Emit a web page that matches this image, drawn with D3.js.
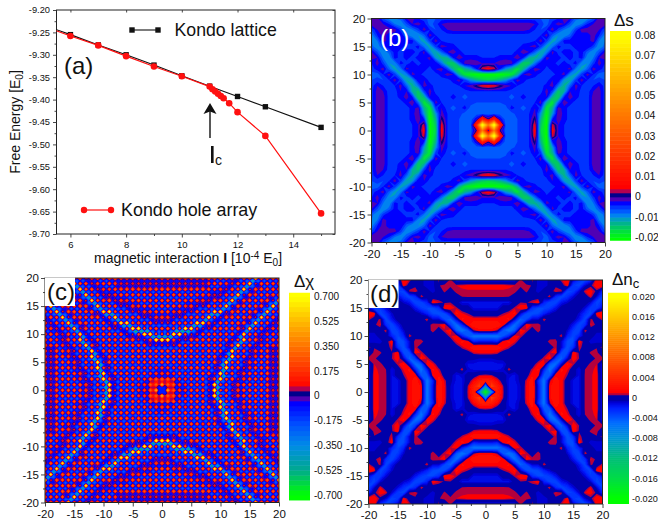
<!DOCTYPE html>
<html>
<head>
<meta charset="utf-8">
<script src="https://cdnjs.cloudflare.com/ajax/libs/d3/7.8.5/d3.min.js"></script>
<style>
  html, body { margin: 0; padding: 0; background: #fff; }
  text { font-family: "Liberation Sans", Arial, sans-serif; fill: #111; }
</style>
</head>
<body>
<svg id="chart" width="658" height="523"></svg>
<script>
// panel (a): free energy against magnetic interaction
const latticeX = [5, 6, 7, 8, 9, 10, 11, 12, 13, 15];
const latticeE = [-9.233, -9.255, -9.278, -9.300, -9.323, -9.347, -9.370, -9.393, -9.416, -9.462];
const holeX = [5, 6, 7, 8, 9, 10, 11, 11.1, 11.2, 11.3, 11.4, 11.5, 11.7, 12, 13, 15];
const holeE = [-9.235, -9.258, -9.279, -9.303, -9.326, -9.348, -9.371, -9.377, -9.382, -9.387, -9.392, -9.397, -9.408, -9.428, -9.481, -9.654];
const energyTicks = [-9.20, -9.25, -9.30, -9.35, -9.40, -9.45, -9.50, -9.55, -9.60, -9.65, -9.70];
const interactionTicks = [6, 8, 10, 12, 14];

// maps: one octant of the lattice, row = y (0..20), columns x = y..20
const siteTicks = [-20, -15, -10, -5, 0, 5, 10, 15, 20];

// delta s, in units of 0.001
const dsOctant = [
  [-3, 40, 1, -7, -8, -6, -5, -4, 6, -16, -21, 6, -2, -4, -5, -5, -5, -5, -1, -1, -5],
  [85, 15, -7, -8, -6, -5, -4, 5, -15, -21, 4, -2, -4, -5, -5, -5, -5, -1, -1, -5],
  [-2, -7, -7, -6, -5, -4, 2, -13, -21, -4, -1, -3, -5, -5, -5, -5, -1, -1, -5],
  [-6, -7, -5, -5, -4, -1, -10, -20, -10, 0, -3, -5, -5, -5, -5, -1, -1, -5],
  [-3, -5, -7, -5, -2, -5, -18, -13, -1, -3, -5, -5, -5, -5, -1, -1, -5],
  [-5, -5, -5, -4, -1, -12, -18, -7, 0, -3, -5, -5, -5, -1, -1, -5],
  [-3, -5, -5, -3, -2, -13, -16, -4, -1, -3, -5, -5, -1, -1, -5],
  [-5, -5, -5, -1, -5, -15, -12, -2, -2, -5, -5, -2, -1, -5],
  [-5, -5, -3, -1, -8, -13, -7, -1, -4, -5, -4, -2, -5],
  [-5, -5, -2, -2, -10, -12, -5, -1, -4, -6, -5, -6],
  [-5, -5, -3, -1, -9, -11, -5, -1, -4, -7, -7],
  [-3, -3, -3, -1, -8, -11, -7, -1, -3, -5],
  [-5, -3, -5, -3, -9, -10, -5, -1, -4],
  [-5, -3, -5, -3, -10, -8, -2, -1],
  [-3, -5, -3, -7, -10, -6, -2],
  [-3, -3, -2, -5, -10, -7],
  [-3, -3, -1, -8, -8],
  [-3, -1, -4, -9],
  [-1, -2, -6],
  [-1, -1],
  [-2]
];

// delta n_c, in units of 0.001
const dnOctant = [
  [-20, -8, 3, 0.7, -1.2, -1.5, -0.7, 1, 2.5, -1.5, -5.5, 1.5, 2.5, 1.2, -0.2, -1.2, -1.2, 0.6, 0.8, 1.2, -1.5],
  [6, 3, 0.6, -1.2, -1.5, -0.7, 1, 2.5, -1.5, -5.5, 1.5, 2.5, 1.2, -0.2, -1.2, -1.2, 0.6, 0.8, 1.2, -1.5],
  [1.2, -0.1, -1.2, -1.2, -0.5, 0.8, 2.5, -2, -5.5, 0.5, 2.5, 1.2, -0.2, -1.2, -1.2, 0.6, 0.8, 1.2, -1.5],
  [-0.3, -1, -1.2, -0.4, -0.1, 1.5, 1.2, -4, -4, 1.5, 1.5, 0.5, -0.2, -1.2, 0.6, 0.8, 1.2, -1.5],
  [0.9, -0.3, -0.3, -0.2, 0.7, 2, -2, -5.5, -2, 2, 1, -0.2, -1.2, 0.5, 0.8, 1, -1.5],
  [-0.2, -0.2, -0.2, -0.1, 1, 1.5, -4, -5, -1, 2, 0.7, -0.3, -0.2, 0.8, 0.9, -1.5],
  [-0.2, -0.2, -0.2, -0.1, 0.8, 2, -3, -4.5, -1, 1.5, 0.5, -0.3, -0.1, 0.7, 0.8, -1.5],
  [-0.2, -0.2, -0.2, -0.1, 0.8, 1.5, -3.5, -3.5, 1.5, 0.4, -0.2, 0.7, 0.9, -1],
  [-0.2, -0.2, -0.2, -0.1, 0.8, -1, -4, -2.5, 0.9, -0.1, -0.2, 0.4, 0.6, -1],
  [-0.2, -0.2, 0.9, 0.9, -1, -3.5, -3.5, 1.5, -0.1, -1, -1, -1],
  [-0.2, -0.2, -0.1, 0.9, -2, -3.5, -2, -0.1, -0.3, -1, -1],
  [-0.2, -0.2, -0.2, -0.8, -3, -3.5, 0.9, -0.2, -0.5, -0.5],
  [-0.2, -0.2, -0.2, -1.5, -3.5, -2.5, 1, 0.3, -0.3],
  [-0.2, -0.2, -0.2, -1.5, -3.5, 0.7, -0.1, 0.8],
  [-0.2, -0.2, -0.8, -2.5, -3.5, 1.3, 1.8],
  [-0.2, -0.2, -1, -3, -3, -1],
  [-0.2, -0.2, -1, -3.5, -2.5],
  [-0.2, 0.9, -1, -3.5],
  [1.2, 0.3, -2],
  [1.5, 1.5],
  [1.5]
];

// delta chi on integer sites, units of 0.14
const chiSiteOctant = [
  [-0.5, 4, 2.5, 2, 2, 2.5, 2.5, 2.5, 1, 7, 2.5, 2.5, 1, 2, 2.5, 2.5, 2.5, 2.5, 2.5, 1, 2],
  [2.5, 2.5, 2, 2, 2.5, 2.5, 2.5, 1, 7, 2.5, 2.5, 1, 2, 2.5, 2.5, 2.5, 2.5, 2.5, 1, 2],
  [2.5, 2, 2, 2.5, 2.5, 2.5, 1, 2.5, 7, 2.5, 2.5, 1, 2, 2.5, 2.5, 2.5, 2.5, 1, 2],
  [2.5, 2, 2.5, 2.5, 2.5, 2.5, 1, 7, 2.5, 2.5, 1, 2, 2.5, 2.5, 2.5, 2.5, 1, 2],
  [2.5, 2.5, 2.5, 2.5, 2.5, 1, 2.5, 7, 2.5, 2.5, 1, 2, 2.5, 2.5, 2.5, 1, 2],
  [2, 2.5, 2.5, 2.5, 2.5, 1, 7, 2.5, 2.5, 1, 2, 2.5, 2.5, 2.5, 1, 2],
  [2.5, 2, 2.5, 2.5, 1, 2.5, 6.5, 2.5, 2.5, 1, 2, 2.5, 2.5, 1, 2],
  [2, 2.5, 2.5, 2.5, 1, 6.5, 2.5, 2.5, 1, 2, 2.5, 2.5, 1, 2],
  [2.5, 2.5, 2.5, 1, 2.5, 6.5, 2.5, 2.5, 1, 2, 2.5, 2, 2.5],
  [2.5, 2.5, 2.5, 1, 2.5, 6, 2.5, 2.5, 1, 2, 2.5, 2.5],
  [2.5, 2.5, 2.5, 1, 6, 2.5, 2.5, 1, 2, 2.5, 2.5],
  [2.5, 2.5, 2.5, 1, 6, 2.5, 2.5, 1, 2, 2.5],
  [2.5, 2.5, 2.5, 1, 6, 2.5, 2.5, 1, 2],
  [2.5, 2.5, 2.5, 1, 6, 2.5, 2.5, 1],
  [2.5, 2.5, 2.5, 1, 6, 2.5, 2.5],
  [2.5, 2.5, 2.5, 1, 6, 2.5],
  [2.5, 2.5, 2.5, 1, 6],
  [2.5, 2.5, 2.5, 2.5],
  [2.5, 2.5, 2.5],
  [2.5, 2.5],
  [2.5]
];

// delta chi on the sites between them, units of 0.1
const chiGapOctant = [
  [-1, 0.5, -1.5, -1.5, -2.5, -2.5, -2.5, -2.5, -0.5, -6.5, -2.5, -2.5, -0.5, -1.5, -2.5, -2.5, -2.5, -2.5, -0.7, -1],
  [0.5, -1.5, -2.5, -2.5, -2.5, -2.5, -2.5, -0.5, -6.5, -2.5, -2.5, -0.5, -1.5, -2.5, -2.5, -2.5, -2.5, -0.7, -1],
  [-2.5, -2.5, -2.5, -2.5, -2.5, -2.5, -0.5, -2.5, -6.5, -2.5, -2.5, -0.5, -1.5, -2.5, -2.5, -2.5, -0.7, -1],
  [-2.5, -2.5, -2.5, -2.5, -2.5, -2.5, -0.5, -6.5, -2.5, -2.5, -0.5, -1.5, -2.5, -2.5, -2.5, -0.7, -1],
  [-2.5, -2.5, -2.5, -2.5, -2.5, -0.5, -6.5, -2.5, -2.5, -2.5, -0.5, -1.5, -2.5, -2.5, -0.7, -1],
  [-2.5, -2.5, -2.5, -2.5, -0.5, -2.5, -6.5, -2.5, -2.5, -0.5, -1.5, -2.5, -2.5, -0.7, -1],
  [-2.5, -2.5, -2.5, -2.5, -0.5, -6, -2.5, -2.5, -2.5, -0.5, -1.5, -2.5, -0.7, -1],
  [-2.5, -2.5, -2.5, -2.5, -0.5, -6, -2.5, -2.5, -0.5, -1.5, -2.5, -0.7, -1],
  [-2.5, -2.5, -2.5, -0.5, -2.5, -6, -2.5, -2.5, -0.5, -1.5, -2.5, -1.5],
  [-2.5, -2.5, -2.5, -0.5, -5.5, -2.5, -2.5, -0.5, -1.5, -2.5, -2.5],
  [-2.5, -2.5, -2.5, -0.5, -5.5, -2.5, -2.5, -0.5, -1.5, -2.5],
  [-2.5, -2.5, -0.5, -2.5, -5.5, -2.5, -2.5, -0.5, -1.5],
  [-2.5, -2.5, -0.5, -2.5, -5.5, -2.5, -2.5, -0.5],
  [-2.5, -2.5, -0.5, -2.5, -5.5, -2.5, -2.5],
  [-2.5, -2.5, -0.5, -2.5, -5.5, -2.5],
  [-2.5, -2.5, -0.5, -2.5, -5.5],
  [-2.5, -2.5, -0.5, -2.5],
  [-2.5, -2.5, -2.5],
  [-2.5, -2.5],
  [-2.5]
];

// colour bars
const dsStops = [-0.021, -0.017, -0.015, -0.013, -0.011, -0.009, -0.007, -0.005, -0.003, -0.001, 0.001, 0.003, 0.005, 0.08];
const dsColors = ["#00ff00", "#00e13c", "#00c864", "#00b48c", "#00a0be", "#0082f0", "#005aff", "#0032ff", "#0000ff", "#5000b4", "#00008c", "#b40050", "#ff0000", "#ffff00"];
const dsBarTicks = [0.08, 0.07, 0.06, 0.05, 0.04, 0.03, 0.02, 0.01, 0, -0.01, -0.02];

const chiStops = [-0.7, -0.525, -0.35, -0.2, -0.0525, -0.0175, 0.0175, 0.0525, 0.0875, 0.7];
const chiColors = ["#00ff00", "#00aa8c", "#008ce6", "#0050ff", "#0000ff", "#5000b4", "#00008c", "#b40050", "#ff0a00", "#ffff00"];
const chiBarTicks = [0.7, 0.525, 0.35, 0.175, 0, -0.175, -0.35, -0.525, -0.7];

const dnStops = [-0.02, -0.016, -0.012, -0.008, -0.005, -0.002, -0.001, -0.0005, 0.0003, 0.0007, 0.0011, 0.02];
const dnColors = ["#00ff00", "#00dc46", "#00be78", "#0096d2", "#006eff", "#001eff", "#0000dc", "#0000aa", "#0000aa", "#b4003c", "#ff0000", "#ffff00"];
const dnBarTicks = [0.02, 0.016, 0.012, 0.008, 0.004, 0, -0.004, -0.008, -0.012, -0.016, -0.02];

const svg = d3.select("#chart");
const defs = svg.append("defs");

// the reference is a slightly soft scan
defs.append("filter").attr("id", "soft")
  .append("feGaussianBlur").attr("stdDeviation", 0.4);

// ---------- panel (a)
const ax = d3.scaleLinear().domain([5.5, 15.5]).range([56.5, 335]);
const ay = d3.scaleLinear().domain([-9.70, -9.20]).range([234, 10]);

defs.append("clipPath").attr("id", "clip-a").append("rect")
  .attr("x", 56.5).attr("y", 10).attr("width", 278.5).attr("height", 224);

const pa = svg.append("g");
pa.append("rect").attr("x", 56.5).attr("y", 10).attr("width", 278.5).attr("height", 224)
  .attr("fill", "none").attr("stroke", "#222").attr("stroke-width", 1);

function smallAxis(g, size) {
  g.selectAll(".domain").remove();
  g.selectAll("line").attr("stroke", "#333").attr("stroke-width", 0.9);
  g.selectAll("text").attr("font-size", size);
}

pa.append("g").attr("transform", "translate(56.5,0)")
  .call(d3.axisLeft(ay).tickValues(energyTicks).tickSize(3.5).tickPadding(3).tickFormat(d => d.toFixed(2)))
  .call(smallAxis, 9.3);
pa.append("g").attr("transform", "translate(56.5,0)")
  .call(d3.axisLeft(ay).tickValues(d3.range(-9.675, -9.2, 0.05)).tickSize(2).tickFormat(""))
  .call(smallAxis, 9.3);
pa.append("g").attr("transform", "translate(0,234)")
  .call(d3.axisBottom(ax).tickValues(interactionTicks).tickSize(3.5).tickPadding(4).tickFormat(d => d))
  .call(smallAxis, 9.5);
pa.append("g").attr("transform", "translate(0,234)")
  .call(d3.axisBottom(ax).tickValues([7, 9, 11, 13, 15]).tickSize(2).tickFormat(""))
  .call(smallAxis, 9.5);
pa.append("g").attr("transform", "translate(335,0)")
  .call(d3.axisLeft(ay).tickValues(energyTicks).tickSize(2.5).tickFormat(""))
  .call(smallAxis, 9.3);
pa.append("g").attr("transform", "translate(0,10)")
  .call(d3.axisBottom(ax).tickValues(interactionTicks).tickSize(2.5).tickFormat(""))
  .call(smallAxis, 9.3);

const energyLine = d3.line().x(d => ax(d[0])).y(d => ay(d[1]));
const latticePts = d3.zip(latticeX, latticeE);
const holePts = d3.zip(holeX, holeE);
const marks = pa.append("g").attr("clip-path", "url(#clip-a)");
marks.append("path").attr("d", energyLine(latticePts)).attr("fill", "none").attr("stroke", "#111").attr("stroke-width", 1.1);
marks.selectAll(".sq").data(latticePts).enter().append("rect")
  .attr("x", d => ax(d[0]) - 2.7).attr("y", d => ay(d[1]) - 2.7)
  .attr("width", 5.4).attr("height", 5.4).attr("fill", "#111");
marks.append("path").attr("d", energyLine(holePts)).attr("fill", "none").attr("stroke", "#ff1010").attr("stroke-width", 1.2);
marks.selectAll(".dot").data(holePts).enter().append("circle")
  .attr("cx", d => ax(d[0])).attr("cy", d => ay(d[1])).attr("r", 3.3).attr("fill", "#ff1010");

// legend
pa.append("line").attr("x1", 132).attr("x2", 158).attr("y1", 30).attr("y2", 30).attr("stroke", "#111").attr("stroke-width", 1.1);
pa.selectAll(".lsq").data([132, 158]).enter().append("rect")
  .attr("x", d => d - 2.7).attr("y", 27.3).attr("width", 5.4).attr("height", 5.4).attr("fill", "#111");
pa.append("text").attr("x", 174.5).attr("y", 36).attr("font-size", 17.7).text("Kondo lattice");
pa.append("line").attr("x1", 84).attr("x2", 111).attr("y1", 210).attr("y2", 210).attr("stroke", "#ff1010").attr("stroke-width", 1.2);
pa.selectAll(".ldot").data([84, 111]).enter().append("circle")
  .attr("cx", d => d).attr("cy", 210).attr("r", 3.2).attr("fill", "#ff1010");
pa.append("text").attr("x", 121).attr("y", 216).attr("font-size", 17.9).text("Kondo hole array");

pa.append("text").attr("x", 64).attr("y", 74).attr("font-size", 24).text("(a)");

// arrow at I_c
pa.append("line").attr("x1", 210).attr("x2", 210).attr("y1", 138).attr("y2", 106)
  .attr("stroke", "#111").attr("stroke-width", 1.4);
pa.append("path").attr("d", "M210,103 L203.5,114 L210,111.5 L216.5,114 Z").attr("fill", "#111");
pa.append("rect").attr("x", 211).attr("y", 146).attr("width", 2.6).attr("height", 17).attr("fill", "#111");
pa.append("text").attr("x", 215).attr("y", 165).attr("font-size", 14).text("c");

pa.append("text").attr("transform", "translate(20,122) rotate(-90)").attr("text-anchor", "middle")
  .attr("font-size", 14).html('Free Energy [E<tspan dy="3" font-size="10">0</tspan><tspan dy="-3">]</tspan>');
pa.append("text").attr("x", 188).attr("y", 263).attr("text-anchor", "middle")
  .attr("font-size", 14).html('magnetic interaction <tspan font-weight="bold">I</tspan> [10<tspan dy="-4" font-size="10">-4</tspan><tspan dy="4"> E</tspan><tspan dy="3" font-size="10">0</tspan><tspan dy="-3">]</tspan>');

// ---------- maps
// unfold an octant into the full square lattice
function unfold(octant, scale) {
  const rows = [];
  for (let y = -20; y <= 20; y++) {
    for (let x = -20; x <= 20; x++) {
      const a = Math.abs(x), b = Math.abs(y);
      const lo = Math.min(a, b), hi = Math.max(a, b);
      rows.push(octant[lo][hi - lo] * scale);
    }
  }
  return rows;
}

// delta chi lives on a lattice with half a unit spacing
function unfoldChi() {
  const n = 81, vals = new Array(n * n).fill(0);
  const at = (i, j) => vals[j * n + i];
  for (let j = 0; j < n; j++) {
    for (let i = 0; i < n; i++) {
      if (i % 2 === 0 && j % 2 === 0) {
        const a = Math.abs(i / 2 - 20), b = Math.abs(j / 2 - 20);
        const lo = Math.min(a, b), hi = Math.max(a, b);
        vals[j * n + i] = chiSiteOctant[lo][hi - lo] * 0.14;
      } else if (i % 2 === 1 && j % 2 === 1) {
        const a = Math.floor(Math.abs((i - 40) / 2)), b = Math.floor(Math.abs((j - 40) / 2));
        const lo = Math.min(a, b), hi = Math.max(a, b);
        vals[j * n + i] = chiGapOctant[lo][hi - lo] * 0.1;
      }
    }
  }
  for (let j = 0; j < n; j++) {
    for (let i = 0; i < n; i++) {
      if ((i + j) % 2 === 1) {
        const around = [];
        if (i > 0) around.push(at(i - 1, j));
        if (i < n - 1) around.push(at(i + 1, j));
        if (j > 0) around.push(at(i, j - 1));
        if (j < n - 1) around.push(at(i, j + 1));
        // links between sites sit below the mean, so the dots stay apart
        vals[j * n + i] = d3.mean(around) - 0.3 * d3.max(around, Math.abs);
      }
    }
  }
  return vals;
}

function drawMap(cfg) {
  const sx = d3.scaleLinear().domain([-20, 20]).range([cfg.x0, cfg.x1]);
  const sy = d3.scaleLinear().domain([-20, 20]).range([cfg.y1, cfg.y0]);
  const color = d3.scaleLinear().domain(cfg.stops).range(cfg.colors).clamp(true);
  const g = svg.append("g");

  defs.append("clipPath").attr("id", "clip-" + cfg.id).append("rect")
    .attr("x", cfg.x0).attr("y", cfg.y0).attr("width", cfg.x1 - cfg.x0).attr("height", cfg.y1 - cfg.y0);

  const px = d3.scaleLinear().domain([0.5, cfg.n - 0.5]).range([cfg.x0, cfg.x1]);
  const py = d3.scaleLinear().domain([0.5, cfg.n - 0.5]).range([cfg.y1, cfg.y0]);
  const path = d3.geoPath(d3.geoTransform({
    point: function(x, y) { this.stream.point(px(x), py(y)); }
  }));
  const contours = d3.contours().size([cfg.n, cfg.n]).thresholds(cfg.bands)(cfg.values);

  const map = g.append("g").attr("clip-path", "url(#clip-" + cfg.id + ")")
    .append("g").style("filter", "url(#soft)");
  map.append("rect").attr("x", cfg.x0 - 5).attr("y", cfg.y0 - 5)
    .attr("width", cfg.x1 - cfg.x0 + 10).attr("height", cfg.y1 - cfg.y0 + 10)
    .attr("fill", color(cfg.bands[0]));
  map.selectAll("path").data(contours).enter().append("path")
    .attr("d", path)
    .attr("fill", d => color(d.value + cfg.step / 2));

  g.append("rect").attr("x", cfg.x0).attr("y", cfg.y0)
    .attr("width", cfg.x1 - cfg.x0).attr("height", cfg.y1 - cfg.y0)
    .attr("fill", "none").attr("stroke", "#222").attr("stroke-width", 1);

  g.append("g").attr("transform", "translate(" + cfg.x0 + ",0)")
    .call(d3.axisLeft(sy).tickValues(siteTicks).tickSize(4).tickPadding(2).tickFormat(d => String(d)))
    .call(smallAxis, 11.5);
  g.append("g").attr("transform", "translate(" + cfg.x0 + ",0)")
    .call(d3.axisLeft(sy).tickValues(d3.range(-17.5, 20, 5)).tickSize(2).tickFormat(""))
    .call(smallAxis, 11.5);
  g.append("g").attr("transform", "translate(0," + cfg.y1 + ")")
    .call(d3.axisBottom(sx).tickValues(siteTicks).tickSize(4).tickPadding(3).tickFormat(d => String(d)))
    .call(smallAxis, 11.5);
  g.append("g").attr("transform", "translate(0," + cfg.y1 + ")")
    .call(d3.axisBottom(sx).tickValues(d3.range(-17.5, 20, 5)).tickSize(2).tickFormat(""))
    .call(smallAxis, 11.5);

  // colour bar
  const bar = d3.scaleLinear().domain(cfg.barDomain).range(cfg.barRange);
  defs.append("clipPath").attr("id", "clip-bar-" + cfg.id).append("rect")
    .attr("x", cfg.barX).attr("y", cfg.barTop).attr("width", cfg.barW).attr("height", cfg.barBottom - cfg.barTop);
  g.append("g").attr("clip-path", "url(#clip-bar-" + cfg.id + ")")
    .selectAll("rect").data(cfg.bands).enter().append("rect")
    .attr("x", cfg.barX).attr("width", cfg.barW)
    .attr("y", d => bar(d + cfg.step))
    .attr("height", d => bar(d) - bar(d + cfg.step) + 0.5)
    .attr("fill", d => color(d + cfg.step / 2));
  g.selectAll(".barlabel").data(cfg.barTicks).enter().append("text")
    .attr("x", cfg.barX + cfg.barW + cfg.barGap).attr("y", d => bar(d) + 3.5)
    .attr("font-size", cfg.barFont)
    .text(d => d === 0 ? "0" : String(d.toFixed(cfg.barDigits)));

  // panel letter
  if (cfg.box) {
    g.append("rect").attr("x", cfg.x0).attr("y", cfg.y0 - 0.5).attr("width", 30).attr("height", 28.5).attr("fill", "#fff");
  }
  g.append("text").attr("x", cfg.letterX).attr("y", cfg.letterY).attr("font-size", 24)
    .style("fill", cfg.letterFill).text(cfg.letter);
  g.append("text").attr("x", cfg.titleX).attr("y", cfg.titleY).attr("font-size", 17).html(cfg.title);
}

drawMap({
  id: "b", letter: "(b)", letterX: 380, letterY: 46, letterFill: "#fff", box: false,
  x0: 371.5, x1: 605, y0: 18.5, y1: 242.5, n: 41,
  values: unfold(dsOctant, 0.001), step: 0.002, bands: d3.range(-0.022, 0.082, 0.002),
  stops: dsStops, colors: dsColors,
  barX: 610, barW: 21, barTop: 31, barBottom: 240.7, barGap: 4,
  barDomain: [-0.02, 0.08], barRange: [237.3, 35], barTicks: dsBarTicks, barDigits: 2, barFont: 10.5,
  title: "&#916;s", titleX: 614, titleY: 26
});

drawMap({
  id: "c", letter: "(c)", letterX: 47, letterY: 300, letterFill: "#111", box: true,
  x0: 45, x1: 279, y0: 278, y1: 502.5, n: 81,
  values: unfoldChi(), step: 0.035, bands: d3.range(-0.735, 0.735, 0.035),
  stops: chiStops, colors: chiColors,
  barX: 289, barW: 21, barTop: 292.7, barBottom: 501.7, barGap: 4,
  barDomain: [-0.7, 0.7], barRange: [495, 296.7], barTicks: chiBarTicks, barDigits: 3, barFont: 10,
  title: "&#916;&#967;", titleX: 294, titleY: 287
});

drawMap({
  id: "d", letter: "(d)", letterX: 370, letterY: 302, letterFill: "#111", box: true,
  x0: 368.5, x1: 602.5, y0: 280, y1: 504, n: 41,
  values: unfold(dnOctant, 0.001), step: 0.0004, bands: d3.range(-0.0211, 0.0209, 0.0004),
  stops: dnStops, colors: dnColors,
  barX: 608, barW: 21, barTop: 292.7, barBottom: 504, barGap: 3,
  barDomain: [-0.02, 0.02], barRange: [498.3, 296.3], barTicks: dnBarTicks, barDigits: 3, barFont: 9.1,
  title: '&#916;n<tspan dy="3" font-size="13">c</tspan>', titleX: 612, titleY: 285
});
</script>
</body>
</html>
